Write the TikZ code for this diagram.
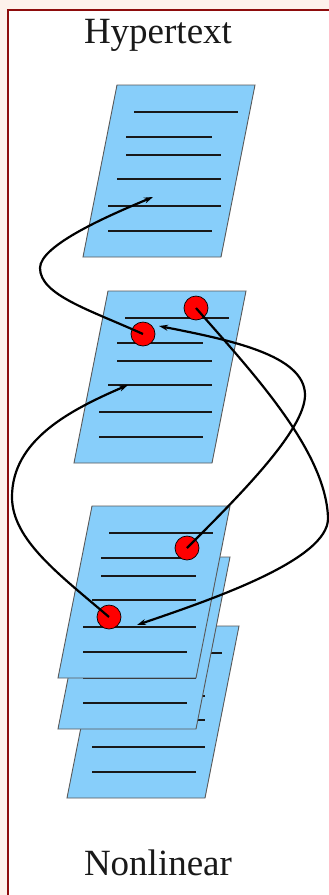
\documentclass[tikz,border=0pt]{standalone}
\usepackage{fontspec}
\setmainfont{Liberation Serif}
\usetikzlibrary{arrows.meta}
\definecolor{bgpink}{HTML}{FDF1EB}
\definecolor{framered}{HTML}{8E0C0C}
\definecolor{docblue}{HTML}{87CEFA}
\tikzset{
  docshape/.style={fill=docblue, draw=black!65, line width=0.9pt},
  docline/.style={line width=1.6pt, draw=black!90},
  hotspot/.style={circle, fill=red, draw=black, line width=0.7pt, minimum size=24pt, inner sep=0pt},
  link/.style={line width=2.2pt, draw=black, -{Stealth[length=9pt,width=6pt]}},
  label/.style={font=\fontsize{37}{40}\selectfont, text=black!90, anchor=base, inner sep=0pt},
  doc/.pic={
    \path[docshape] (0,0) -- (138,0) -- (104,172) -- (-34,172) -- cycle;
    \draw[docline] (17,27) -- (121,27);
    \draw[docline] (9,52) -- (95,52);
    \draw[docline] (9,70) -- (104,70);
    \draw[docline] (0,94) -- (104,94);
    \draw[docline] (-9,121) -- (104,121);
    \draw[docline] (-9,146) -- (95,146);
  }
}
\begin{document}
\begin{tikzpicture}[x=1pt,y=-1pt]
  \useasboundingbox (0,0) rectangle (329,895);
  \fill[bgpink] (0,0) rectangle (329,895);
  \filldraw[fill=white, draw=framered, line width=2.2pt] (8,10) rectangle (345,905);

  % documents
  \pic at (117,85) {doc};
  \pic at (108,291) {doc};
  \pic at (101,626) {doc};
  \pic at (92,557) {doc};
  \pic at (92,506) {doc};

  % hotspots
  \node[hotspot] (A) at (143,334) {};
  \node[hotspot] (B) at (196,308) {};
  \node[hotspot] (C) at (187,548) {};
  \node[hotspot] (D) at (109,617) {};

  % link targets
  \coordinate (t1) at (153,197);
  \coordinate (t2) at (137,625);
  \coordinate (t3) at (159,326);
  \coordinate (t4) at (128,385);

  % links
  \draw[link] (A.center) .. controls (90,310) and (40,295) .. (40,268)
                         .. controls (40,245) and (110,215) .. (t1);
  \draw[link] (B.center) .. controls (250,370) and (326,450) .. (328,518)
                         .. controls (329,560) and (210,600) .. (t2);
  \draw[link] (C.center) .. controls (240,495) and (305,430) .. (305,395)
                         .. controls (305,355) and (230,340) .. (t3);
  \draw[link] (D.center) .. controls (60,575) and (12,540) .. (12,497)
                         .. controls (12,440) and (70,410) .. (t4);

  % titles
  \node[label] (top) at (158,43) {Hypertext};
  \node[label] (bottom) at (158,875) {Nonlinear};
\end{tikzpicture}
\end{document}
